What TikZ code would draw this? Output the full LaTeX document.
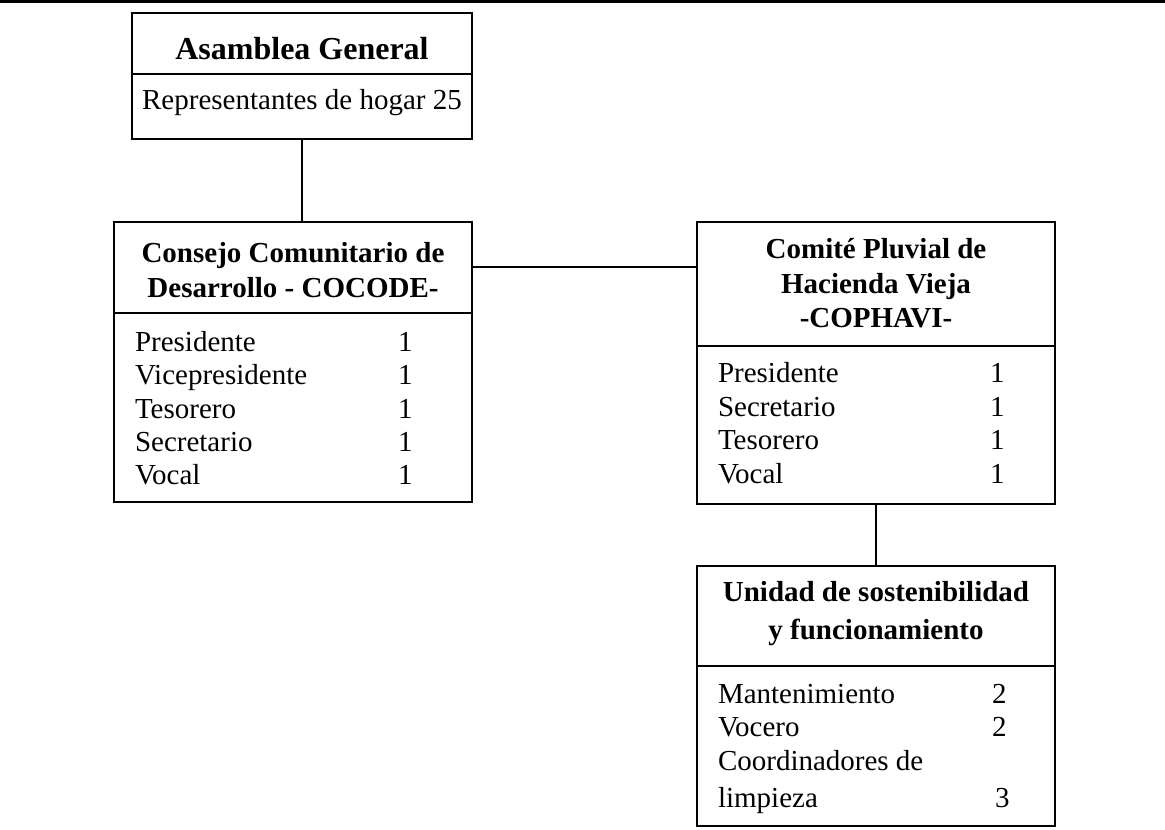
\documentclass[tikz,border=0pt]{standalone}
\usepackage{fontspec}
\setmainfont{Liberation Serif}
\usetikzlibrary{shapes.multipart,positioning,calc}

\newcommand{\cargo}[3]{\hspace*{10.5pt}\makebox[#1][l]{#2}#3}

\begin{document}
\begin{tikzpicture}[x=0.5pt,y=-0.5pt,
    unit/.style={rectangle split,rectangle split parts=2,draw,line width=1pt,
      inner sep=0pt,outer sep=0pt,font=\fontsize{14.5pt}{16.65pt}\selectfont},
    link/.style={line width=1pt}]
  \useasboundingbox (0,0) rectangle (1165,829);
  \draw[line width=1.2pt] (0,1.5) -- (1165,1.5);

  \node[unit,anchor=north] (asamblea) at (302,12.7)
    {\parbox[c][29.65pt][t]{170pt}{\centering\bfseries\fontsize{16pt}{18pt}\selectfont
       \rule{0pt}{23pt}Asamblea General}
     \nodepart{two}
     \parbox[c][31.65pt][t]{170pt}{\centering\rule{0pt}{17.5pt}Representantes de hogar 25}};

  \node[unit,anchor=north] (cocode) at (293,221.7)
    {\parbox[c][44.65pt][t]{179pt}{\centering\bfseries\fontsize{14.5pt}{17.5pt}\selectfont
       \rule{0pt}{20pt}Consejo Comunitario de\\Desarrollo - COCODE-}
     \nodepart{two}
     \parbox[c][93.7pt][t]{179pt}{\fontsize{14.5pt}{16.65pt}\selectfont
       \cargo{131.5pt}{Presidente}{1}\rule{0pt}{18.7pt}\par
       \cargo{131.5pt}{Vicepresidente}{1}\par
       \cargo{131.5pt}{Tesorero}{1}\par
       \cargo{131.5pt}{Secretario}{1}\par
       \cargo{131.5pt}{Vocal}{1}}};

  \node[unit,anchor=north] (cophavi) at (876,221.7)
    {\parbox[c][61pt][t]{179pt}{\centering\bfseries\fontsize{14.5pt}{17.25pt}\selectfont
       \rule{0pt}{18pt}Comité Pluvial de\\Hacienda Vieja\\-COPHAVI-}
     \nodepart{two}
     \parbox[c][78.15pt][t]{179pt}{\fontsize{14.5pt}{16.75pt}\selectfont
       \cargo{136pt}{Presidente}{1}\rule{0pt}{18pt}\par
       \cargo{136pt}{Secretario}{1}\par
       \cargo{136pt}{Tesorero}{1}\par
       \cargo{136pt}{Vocal}{1}}};

  \node[unit,below=30.85pt of cophavi] (unidad)
    {\parbox[c][49pt][t]{179pt}{\centering\bfseries\fontsize{14.5pt}{19pt}\selectfont
       \rule{0pt}{17.5pt}Unidad de sostenibilidad\\y funcionamiento}
     \nodepart{two}
     \parbox[c][79.15pt][t]{179pt}{\fontsize{14.5pt}{16.7pt}\selectfont
       \cargo{137pt}{Mantenimiento}{2}\rule{0pt}{18.3pt}\par
       \cargo{137pt}{Vocero}{2}\par
       \cargo{137pt}{Coordinadores de}{}\par\vspace{2.1pt}
       \cargo{137pt}{limpieza}{\hspace*{1.5pt}3}}};

  % connectors
  \coordinate (enlace) at ($(cocode.north east)!.5!(cocode.text split east)$);
  \draw[link] (asamblea.south) -- (asamblea.south |- cocode.north);
  \draw[link] (enlace) -- (enlace -| cophavi.west);
  \draw[link] (cophavi.south) -- (unidad.north);
\end{tikzpicture}
\end{document}
